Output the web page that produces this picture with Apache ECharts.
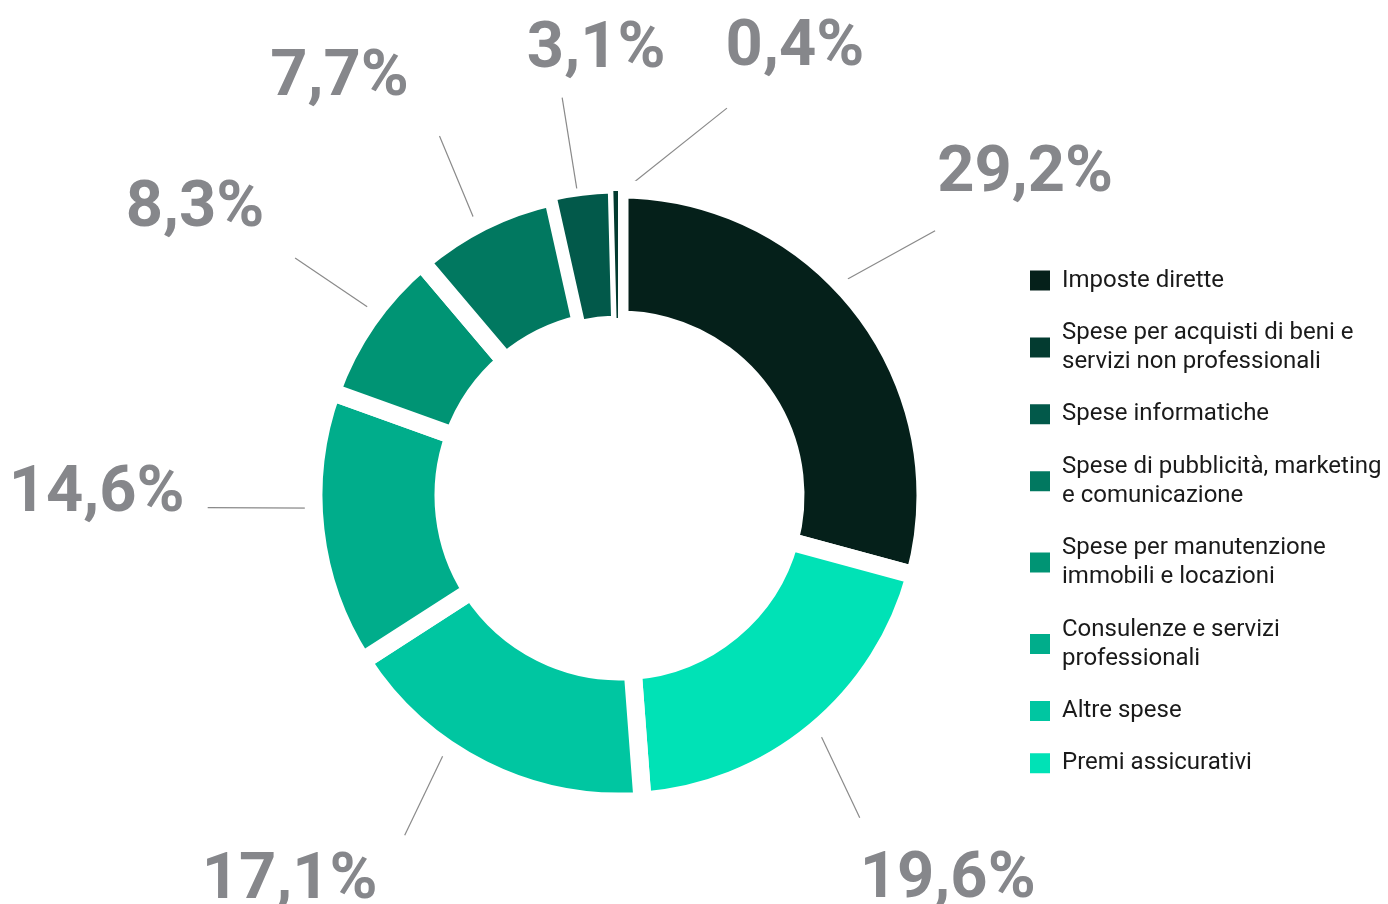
<!DOCTYPE html>
<html>
<head>
  <meta charset="utf-8">
  <title>Composizione delle spese</title>
  <style>
    html, body { margin: 0; padding: 0; background: #fff; }
    #chart { width: 1388px; height: 904px; }
  </style>
</head>
<body>
  <div id="chart"></div>
  <script src="https://cdn.jsdelivr.net/npm/echarts@6/dist/echarts.min.js"></script>
  <script>
  // voci di spesa, in senso orario a partire dalle ore 12
  const categories = [
    'Imposte dirette',
    'Premi assicurativi',
    'Altre spese',
    'Consulenze e servizi\nprofessionali',
    'Spese per manutenzione\nimmobili e locazioni',
    'Spese di pubblicità, marketing\ne comunicazione',
    'Spese informatiche',
    'Spese per acquisti di beni e\nservizi non professionali'
  ];
  // quote percentuali
  const shares = [29.2, 19.6, 17.1, 14.6, 8.3, 7.7, 3.1, 0.4];
  // ordine delle voci in legenda
  const legendOrder = [0, 7, 6, 5, 4, 3, 2, 1];

  const colors = ['#05201a', '#00e2b6', '#00c6a1', '#00ad8b', '#009474', '#017860', '#02594a', '#033b30'];
  // bordo bianco tra le fette (le due fette sottili ne hanno uno più fine)
  const gaps = [18, 18, 18, 18, 18, 18, 8, 3];

  // centro della ciambella e linee guida delle etichette
  const CX = 619.5, CY = 495.5;
  // a0/a1: angolo (gradi, orario dalle 12) di inizio e fine linea, dx/dy: spostamento del testo
  const leaders = [
    {a0: 46.2, a1: 50.0, r0: 308, r1: 412, dx: 90, dy: -56},
    {a0: 139.5, a1: 143.3, dx: 88, dy: 63},
    {a0: 214.5, a1: 212.3, dx: -115, dy: 46},
    {a0: 267.6, a1: 268.3, r1: 412, dx: -111, dy: -13},
    {a0: 306.9, a1: 306.2, dx: -100, dy: -48},
    {a0: 332.1, a1: 333.4, dx: -100, dy: -57},
    {a0: 352.1, a1: 351.8, dx: 34, dy: -47},
    {a0: 0.3, a1: 15.5, dx: 68, dy: -59}
  ];

  function polar(a, r) {
    const t = a * Math.PI / 180;
    return [CX + r * Math.sin(t), CY - r * Math.cos(t)];
  }

  const chart = echarts.init(document.getElementById('chart'));

  chart.setOption({
    animation: false,
    color: colors,
    legend: {
      orient: 'vertical',
      left: 1028,
      top: 266,
      padding: 0,
      icon: 'rect',
      itemWidth: 22,
      itemHeight: 22,
      itemGap: 23.4,
      selectedMode: false,
      data: legendOrder.map(i => categories[i]),
      textStyle: {
        fontFamily: 'Roboto',
        fontSize: 24,
        lineHeight: 29,
        color: '#1a1a1a',
        padding: [0, 0, 0, 6]
      }
    },
    series: [{
      type: 'pie',
      center: [CX, CY],
      radius: [176, 306],
      startAngle: 90,
      clockwise: true,
      avoidLabelOverlap: false,
      itemStyle: {
        borderColor: '#fff'
      },
      label: {
        position: 'outside',
        fontFamily: 'Roboto',
        fontWeight: 'bold',
        fontSize: 65,
        color: '#86878b',
        formatter: p => p.value.toFixed(1).replace('.', ',') + '%'
      },
      labelLine: {
        show: true,
        length: 98,
        length2: 0,
        lineStyle: { color: '#8a8a8a', width: 1.2 }
      },
      labelLayout: function (params) {
        const l = leaders[params.dataIndex];
        const p0 = polar(l.a0, l.r0 || 303);
        const p1 = polar(l.a1, l.r1 || 402);
        return {
          x: p1[0] + l.dx,
          y: p1[1] + l.dy,
          align: 'center',
          verticalAlign: 'middle',
          labelLinePoints: [p0, p1, p1]
        };
      },
      emphasis: { disabled: true },
      data: categories.map((name, i) => ({
        name: name,
        value: shares[i],
        itemStyle: { borderWidth: gaps[i] }
      }))
    }]
  });
  </script>
</body>
</html>
